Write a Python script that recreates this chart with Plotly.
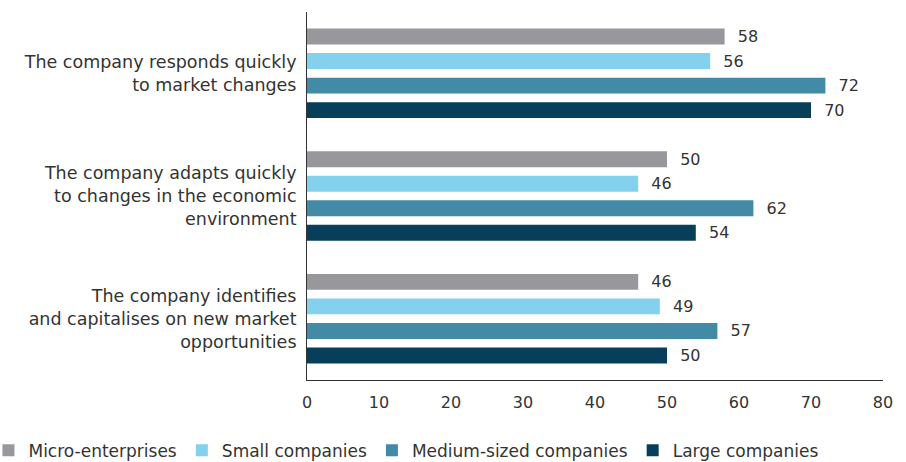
import plotly.graph_objects as go

categories = [
    "The company responds quickly<br>to market changes",
    "The company adapts quickly<br>to changes in the economic<br>environment",
    "The company identifies<br>and capitalises on new market<br>opportunities",
]
series_names = ["Micro-enterprises", "Small companies", "Medium-sized companies", "Large companies"]
micro = [58, 50, 46]
small = [56, 46, 49]
medium = [72, 62, 57]
large = [70, 54, 50]
colors = ["#98989c", "#84d1ee", "#438aa7", "#073f5a"]
x_ticks = [0, 10, 20, 30, 40, 50, 60, 70, 80]

FONT = "DejaVu Sans"
TXT = "#333333"

fig = go.Figure()
for name, vals, col in zip(series_names, [micro, small, medium, large], colors):
    fig.add_trace(go.Bar(
        name=name, y=categories, x=vals, orientation="h",
        marker=dict(color=col, line=dict(width=0)),
        text=vals, texttemplate="\u00a0\u00a0%{x}", textposition="outside",
        constraintext="none",
        textfont=dict(family=FONT, size=16, color=TXT),
        cliponaxis=False,
    ))

fig.update_layout(
    width=906, height=462,
    margin=dict(l=307, r=23, t=12, b=82, autoexpand=False),
    paper_bgcolor="white", plot_bgcolor="white",
    barmode="group", bargap=0.2, bargroupgap=0.35,
    font=dict(family=FONT, size=16, color=TXT),
    showlegend=True,
    legend=dict(orientation="h", x=-0.553, xanchor="left", y=-0.143, yanchor="top",
                font=dict(family=FONT, size=17, color=TXT), traceorder="normal",
                itemwidth=30, tracegroupgap=0),
    xaxis=dict(range=[0, 80], tickvals=x_ticks, showgrid=False, zeroline=False,
               showline=True, linecolor="#333333", linewidth=1, automargin=False,
               ticks="outside", ticklen=8, tickcolor="rgba(0,0,0,0)",
               tickfont=dict(family=FONT, size=16, color=TXT)),
    yaxis=dict(autorange="reversed", showgrid=False, zeroline=False,
               showline=True, linecolor="#333333", linewidth=1, automargin=False,
               ticks="outside", ticklen=6, tickcolor="rgba(0,0,0,0)",
               tickfont=dict(family=FONT, size=17.5, color=TXT)),
)

fig.write_html("out.html")
